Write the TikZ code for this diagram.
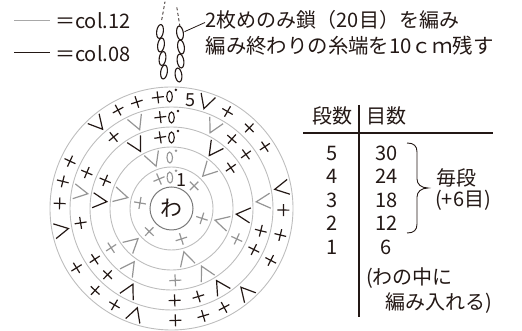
\documentclass[tikz,border=0pt]{standalone}
\usepackage{fontspec}
\setmainfont{Noto Sans CJK JP}
\definecolor{dk}{HTML}{231815}
\definecolor{gs}{HTML}{959595}
\definecolor{gc}{HTML}{BDBDBD}
\definecolor{gw}{HTML}{7A7A7A}
\definecolor{lg}{HTML}{A8A8A8}
\tikzset{
  txt/.style={inner sep=0pt, text=dk, font=\fontsize{20}{24}\selectfont},
  lbl/.style={inner sep=0pt, text=dk, font=\fontsize{18}{20}\selectfont},
  symb/.style={line width=1.2pt, line cap=butt},
  sc/.pic={\draw[symb] (-6,0)--(6,0) (0,-6)--(0,6);},
  inc/.pic={\draw[symb, line join=miter] (-7.5,7)--(0,-7)--(7.5,7);},
  chn/.pic={\draw[line width=1.1pt] (0,0) ellipse (2.8 and 5.5); \fill (6.5,6.5) circle (1.4);},
  ring/.style={gc, line width=0.9pt},
  chainov/.style={dk, line width=1.1pt},
}
\begin{document}
\begin{tikzpicture}[x=1pt,y=1pt]
\useasboundingbox (0,0) rectangle (522,331);
% legend
\coordinate (l1a) at (14,310.5); \coordinate (l1b) at (50,310.5);
\coordinate (l2a) at (14,278.5); \coordinate (l2b) at (50,278.5);
\draw[lg, line width=1pt] (l1a) -- (l1b);
\draw[dk, line width=1pt] (l2a) -- (l2b);
\node[txt, anchor=base west] (leg1) at (55,302.7) {＝col.12};
\node[txt, anchor=base west] (leg2) at (55,269.3) {＝col.08};
% chains at top
\foreach \x/\y in {160/299.5, 161/286, 162.5/272.5, 164/259}
  \draw[chainov, shift={(\x,\y)}, rotate=-8] (0,0) ellipse (3.3 and 7);
\foreach \x/\y in {180/298, 181/284, 180.5/270, 178.5/256}
  \draw[chainov, shift={(\x,\y)}, rotate=8] (0,0) ellipse (3.3 and 7);
\coordinate (d1a) at (161.7,311); \coordinate (d1b) at (165,329.3);
\coordinate (d2a) at (180,304.3); \coordinate (d2b) at (176.7,324.3);
\draw[dk, line width=0.8pt, dash pattern=on 3pt off 2.5pt] (d1a) -- (d1b);
\draw[dk, line width=0.8pt, dash pattern=on 3pt off 2.5pt] (d2a) -- (d2b);
\coordinate (lead) at (184.5,299.3);
\node[txt, anchor=base west] (note1) at (205.5,303.5) {2枚めのみ鎖（20目）を編み};
\node[txt, anchor=base west, font=\fontsize{20.4}{24}\selectfont] (note2) at (205.5,277.5) {編み終わりの糸端を10ｃｍ残す};
\draw[dk, line width=0.8pt] (lead) -- (205,308.5);
% chart
\begin{scope}[shift={(171.5,122.5)}]
  \draw[gw, line width=1pt] (0,0) circle (21.5);
  \foreach \r in {41.5,61.5,81.5,101.5,121.5} \draw[ring] (0,0) circle (\r);
  \node[txt, font=\fontsize{22}{24}\selectfont] (wa) at (0,0.5) {わ};
  % round 1
  \foreach \a in {113,170,226,288,342,45} \pic[color=gs, rotate=\a-90] at (\a:32) {sc};
  \pic[color=gs, rotate=3] at (93:31) {chn};
  % round 2
  \foreach \a in {110,166,222,286,345,46} \pic[color=gs, rotate=\a-90] at (\a:52) {inc};
  \pic[color=gs, rotate=2] at (92:51) {chn};
  % round 3
  \foreach \a in {99,157,34.5} \pic[color=dk, rotate=\a-90] at (\a:72) {sc};
  \foreach \a in {213,273,335} \pic[color=gs, rotate=\a-90] at (\a:72) {sc};
  \foreach \a in {118.5,174,355,54.5} \pic[color=dk, rotate=\a-90] at (\a:72) {inc};
  \foreach \a in {235,297.5} \pic[color=gs, rotate=\a-90] at (\a:72) {inc};
  \pic[color=dk] at (90:71) {chn};
  % round 4
  \foreach \a in {97,129,157,189,213.5,226,272,287,333.5,346,36,49} \pic[color=dk, rotate=\a-90] at (\a:92) {sc};
  \foreach \a in {112,170,4.5,63} \pic[color=gs, rotate=\a-90] at (\a:92) {inc};
  \foreach \a in {243,302} \pic[color=dk, rotate=\a-90] at (\a:92) {inc};
  \pic[color=dk] at (90:91) {chn};
  % round 5
  \foreach \a in {97,108,118.5,155,166,177.4,212,227,239.4,272,286.5,298,332.4,346.3,359.2,33.5,46,60} \pic[color=dk, rotate=\a-90] at (\a:112) {sc};
  \foreach \a in {72,10.5,311.4,251,191,131} \pic[color=dk, rotate=\a-90] at (\a:112) {inc};
  \pic[color=dk, rotate=1] at (91:112) {chn};
  \node[lbl] (r1) at (10,28.5) {1};
  \node[lbl] (r5) at (18.5,108.5) {5};
\end{scope}
% table
\node[txt, anchor=base] (h1) at (332.5,207.4) {段数};
\node[txt, anchor=base] (h2) at (386.7,207.4) {目数};
\coordinate (vt) at (359,226); \coordinate (vb) at (359,14);
\coordinate (hl) at (303,198); \coordinate (hr) at (493,198);
\draw[dk, line width=1.1pt] (vt) -- (vb);
\draw[dk, line width=1.1pt] (hl) -- (hr);
\foreach \n/\m/\yy [count=\i] in {5/30/170.7, 4/24/147.2, 3/18/123.7, 2/12/100.2, 1/6/76.7} {
  \node[txt, anchor=base] (a\i) at (332,\yy) {\n};
  \node[txt, anchor=base] (b\i) at (386.5,\yy) {\m};
}
\draw[dk, line width=0.9pt] (407,188) .. controls (414,188) and (417,185) .. (417,179) -- (417,152)
  .. controls (417,147) and (421,143) .. (428,143)
  .. controls (421,143) and (417,139) .. (417,134) -- (417,107)
  .. controls (417,101) and (414,98) .. (407,98);
\node[txt, anchor=base] (mai) at (456,145) {毎段};
\node[txt, anchor=base] (plus) at (463,124) {(+6目)};
\node[txt, anchor=base west] (wa1) at (366,46) {(わの中に};
\node[txt, anchor=base west] (wa2) at (385.5,21) {編み入れる)};
\end{tikzpicture}
\end{document}
